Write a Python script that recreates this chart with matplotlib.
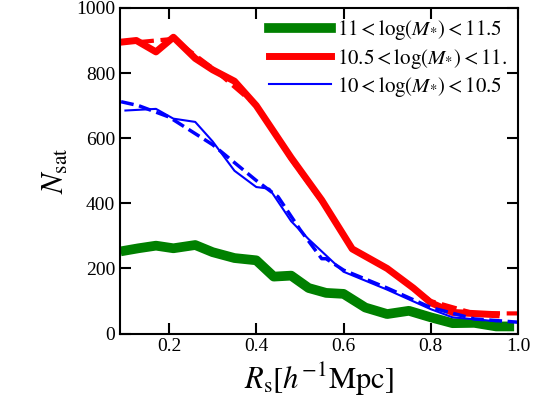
import matplotlib
matplotlib.use("Agg")
import matplotlib.pyplot as plt

plt.rcParams["font.family"] = "Liberation Serif"
plt.rcParams["mathtext.fontset"] = "stix"

# 11 < log M < 11.5
x_hi = [0.10, 0.13, 0.17, 0.21, 0.26, 0.30, 0.35, 0.40, 0.44, 0.48, 0.52, 0.56, 0.60, 0.65, 0.70, 0.75, 0.80, 0.85, 0.90, 0.95, 0.98]
y_hi = [255, 262, 270, 262, 272, 250, 232, 225, 175, 178, 140, 125, 122, 80, 60, 70, 50, 32, 33, 22, 22]
# 10.5 < log M < 11
x_mid = [0.09, 0.125, 0.17, 0.21, 0.26, 0.30, 0.35, 0.40, 0.45, 0.48, 0.55, 0.62, 0.70, 0.76, 0.80, 0.85, 0.95]
y_mid = [895, 900, 865, 910, 845, 810, 775, 700, 600, 540, 410, 260, 200, 140, 95, 65, 58]
x_mid_d = [0.13, 0.21, 0.30, 0.40, 0.48, 0.55, 0.62, 0.70, 0.80, 0.90, 0.97, 1.0]
y_mid_d = [895, 905, 815, 700, 535, 405, 262, 198, 100, 62, 62, 62]
# 10 < log M < 10.5
x_lo = [0.10, 0.17, 0.21, 0.26, 0.30, 0.35, 0.40, 0.43, 0.48, 0.52, 0.56, 0.60, 0.70, 0.80, 0.85, 0.95]
y_lo = [685, 690, 660, 650, 590, 500, 450, 445, 345, 290, 240, 190, 135, 75, 50, 38]
x_lo_d = [0.09, 0.13, 0.20, 0.30, 0.40, 0.45, 0.50, 0.55, 0.56, 0.60, 0.70, 0.80, 0.90, 1.0]
y_lo_d = [712, 700, 665, 580, 470, 420, 320, 230, 230, 195, 140, 80, 45, 35]

fig, ax = plt.subplots(figsize=(5.39, 4.17), dpi=100)
fig.subplots_adjust(left=0.223, right=0.961, top=0.981, bottom=0.2)

ax.plot(x_hi, y_hi, color="green", lw=7, label=r"$11<\log(M_{*})<11.5$")
ax.plot(x_mid, y_mid, color="red", lw=5, label=r"$10.5<\log(M_{*})<11.$")
ax.plot(x_mid_d, y_mid_d, color="red", lw=3, ls="--")
ax.plot(x_lo, y_lo, color="blue", lw=1.5, label=r"$10<\log(M_{*})<10.5$")
ax.plot(x_lo_d, y_lo_d, color="blue", lw=2.5, ls="--")

ax.set_xlim(0.088, 1.0)
ax.set_ylim(0, 1000)
ax.set_xticks([0.2, 0.4, 0.6, 0.8, 1.0])
ax.set_xticklabels(["0.2", "0.4", "0.6", "0.8", "1.0"])
ax.set_yticks([0, 200, 400, 600, 800, 1000])
ax.tick_params(direction="in", length=8, width=1.5, top=True, right=True, labelsize=14)
for s in ax.spines.values():
    s.set_linewidth(1.5)
ax.set_xlabel(r"$R_{\rm s}[h^{-1}{\rm Mpc}]$", fontsize=22)
ax.set_ylabel(r"$N_{\rm sat}$", fontsize=22)
ax.legend(loc="upper right", frameon=False, fontsize=15, handlelength=3,
          borderaxespad=0.1, labelspacing=0.2, handletextpad=0.3)

fig.savefig("out.png")
